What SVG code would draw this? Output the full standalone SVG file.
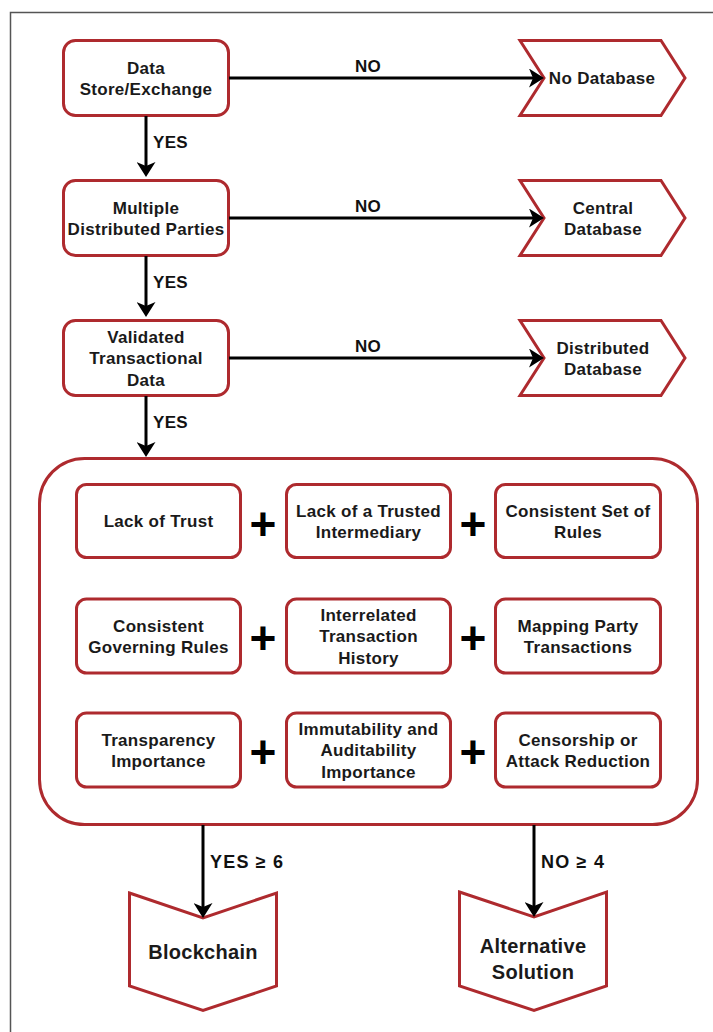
<svg xmlns="http://www.w3.org/2000/svg" width="713" height="1032" viewBox="0 0 713 1032">
  <defs>
    <style>
      .box { fill: #ffffff; stroke: #ae2a2e; stroke-width: 3; }
      .frame { fill: none; stroke: #555555; stroke-width: 1.5; }
      .edge { fill: none; stroke: #000000; stroke-width: 3; }
      .t { font-family: "Liberation Sans", Arial, sans-serif; font-weight: bold; font-size: 17px; fill: #1a1a1a; text-anchor: middle; letter-spacing: 0.3px; }
      .lbl { font-family: "Liberation Sans", Arial, sans-serif; font-weight: bold; font-size: 17px; fill: #111111; letter-spacing: 0.3px; }
      .cnt { font-size: 18px; letter-spacing: 1.2px; }
      .big { font-size: 20px; }
      .plus { font-family: "Liberation Sans", Arial, sans-serif; font-weight: bold; font-size: 46px; fill: #000000; text-anchor: middle; }
    </style>
    <marker id="arrow" markerUnits="userSpaceOnUse" viewBox="0 0 15 19" refX="10" refY="9.5" markerWidth="15" markerHeight="19" orient="auto">
      <path d="M0,0 L15,9.5 L0,19 L4,9.5 Z" fill="#000000"/>
    </marker>
  </defs>

  <rect width="713" height="1032" fill="#ffffff"/>
  <rect class="frame" x="10.5" y="12.5" width="730" height="1040"/>

  <!-- decision column -->
  <g id="store-exchange">
    <rect class="box" x="63.5" y="40.5" width="165" height="75" rx="12"/>
    <text class="t" x="146" y="73.5">Data</text>
    <text class="t" x="146" y="95">Store/Exchange</text>
  </g>
  <g id="distributed-parties">
    <rect class="box" x="63.5" y="180.5" width="165" height="75" rx="12"/>
    <text class="t" x="146" y="213.5">Multiple</text>
    <text class="t" x="146" y="235">Distributed Parties</text>
  </g>
  <g id="validated-data">
    <rect class="box" x="63.5" y="320.5" width="165" height="75" rx="12"/>
    <text class="t" x="146" y="342.5">Validated</text>
    <text class="t" x="146" y="364">Transactional</text>
    <text class="t" x="146" y="385.5">Data</text>
  </g>

  <!-- outcomes on the right -->
  <g id="no-database">
    <polygon class="box" points="520,40.5 661,40.5 685,78 661,115.5 520,115.5 544,78"/>
    <text class="t" x="602" y="84">No Database</text>
  </g>
  <g id="central-database">
    <polygon class="box" points="520,180.5 661,180.5 685,218 661,255.5 520,255.5 544,218"/>
    <text class="t" x="603" y="213.5">Central</text>
    <text class="t" x="603" y="235">Database</text>
  </g>
  <g id="distributed-database">
    <polygon class="box" points="520,320.5 661,320.5 685,358 661,395.5 520,395.5 544,358"/>
    <text class="t" x="603" y="353.5">Distributed</text>
    <text class="t" x="603" y="375">Database</text>
  </g>

  <!-- criteria block -->
  <g id="criteria">
    <rect class="box" x="39.5" y="458.5" width="658" height="366" rx="45"/>
  </g>
  <g id="lack-of-trust">
    <rect class="box" x="76.5" y="484.5" width="164" height="73" rx="10"/>
    <text class="t" x="158.5" y="527">Lack of Trust</text>
  </g>
  <g id="trusted-intermediary">
    <rect class="box" x="286.5" y="484.5" width="164" height="73" rx="10"/>
    <text class="t" x="368.5" y="516.5">Lack of a Trusted</text>
    <text class="t" x="368.5" y="538">Intermediary</text>
  </g>
  <g id="consistent-rules">
    <rect class="box" x="495.5" y="484.5" width="165" height="73" rx="10"/>
    <text class="t" x="578" y="516.5">Consistent Set of</text>
    <text class="t" x="578" y="538">Rules</text>
  </g>
  <g id="governing-rules">
    <rect class="box" x="76.5" y="599" width="164" height="74" rx="10"/>
    <text class="t" x="158.5" y="631.5">Consistent</text>
    <text class="t" x="158.5" y="653">Governing Rules</text>
  </g>
  <g id="transaction-history">
    <rect class="box" x="286.5" y="599" width="164" height="74" rx="10"/>
    <text class="t" x="368.5" y="620.5">Interrelated</text>
    <text class="t" x="368.5" y="642">Transaction</text>
    <text class="t" x="368.5" y="663.5">History</text>
  </g>
  <g id="party-transactions">
    <rect class="box" x="495.5" y="599" width="165" height="74" rx="10"/>
    <text class="t" x="578" y="631.5">Mapping Party</text>
    <text class="t" x="578" y="653">Transactions</text>
  </g>
  <g id="transparency">
    <rect class="box" x="76.5" y="713" width="164" height="74" rx="10"/>
    <text class="t" x="158.5" y="745.5">Transparency</text>
    <text class="t" x="158.5" y="767">Importance</text>
  </g>
  <g id="immutability">
    <rect class="box" x="286.5" y="713" width="164" height="74" rx="10"/>
    <text class="t" x="368.5" y="734.5">Immutability and</text>
    <text class="t" x="368.5" y="756">Auditability</text>
    <text class="t" x="368.5" y="777.5">Importance</text>
  </g>
  <g id="attack-reduction">
    <rect class="box" x="495.5" y="713" width="165" height="74" rx="10"/>
    <text class="t" x="578" y="745.5">Censorship or</text>
    <text class="t" x="578" y="767">Attack Reduction</text>
  </g>
  <g id="plus-signs">
    <text class="plus" x="263" y="540">+</text>
    <text class="plus" x="473" y="540">+</text>
    <text class="plus" x="263" y="654">+</text>
    <text class="plus" x="473" y="654">+</text>
    <text class="plus" x="263" y="768">+</text>
    <text class="plus" x="473" y="768">+</text>
  </g>

  <!-- final outcomes -->
  <g id="blockchain">
    <polygon class="box" points="129.5,893 203,918 276.5,893 276.5,986 203,1010.5 129.5,986"/>
    <text class="t big" x="203" y="959">Blockchain</text>
  </g>
  <g id="alternative-solution">
    <polygon class="box" points="459.5,892 534,917 606.5,892 606.5,986 534,1010.5 459.5,986"/>
    <text class="t big" x="533" y="953">Alternative</text>
    <text class="t big" x="533" y="978.5">Solution</text>
  </g>

  <!-- connectors -->
  <g id="connectors">
    <path class="edge" d="M146,116 V172" marker-end="url(#arrow)"/>
    <path class="edge" d="M146,256 V312" marker-end="url(#arrow)"/>
    <path class="edge" d="M146,396 V452" marker-end="url(#arrow)"/>
    <path class="edge" d="M229,78 H539" marker-end="url(#arrow)"/>
    <path class="edge" d="M229,218 H539" marker-end="url(#arrow)"/>
    <path class="edge" d="M229,358 H539" marker-end="url(#arrow)"/>
    <path class="edge" d="M203,825 V913" marker-end="url(#arrow)"/>
    <path class="edge" d="M534,825 V912" marker-end="url(#arrow)"/>
    <text class="lbl" x="153" y="148">YES</text>
    <text class="lbl" x="153" y="288">YES</text>
    <text class="lbl" x="153" y="428">YES</text>
    <text class="lbl" x="355" y="72">NO</text>
    <text class="lbl" x="355" y="212">NO</text>
    <text class="lbl" x="355" y="352">NO</text>
    <text class="lbl cnt" x="210" y="868">YES ≥ 6</text>
    <text class="lbl cnt" x="541" y="868">NO ≥ 4</text>
  </g>
</svg>
